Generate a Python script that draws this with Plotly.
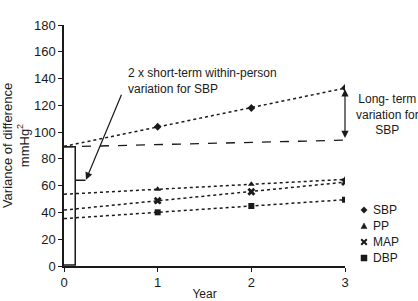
import numpy as np
import plotly.graph_objects as go

years = [1, 2, 3]
sbp = [104, 118, 133]
pp = [57.3, 61, 64.7]
map_ = [48.8, 55.5, 62.7]
dbp = [40.1, 44.8, 49.5]
series_names = ["SBP", "PP", "MAP", "DBP"]
symbols = ["diamond", "triangle-up", "x", "square"]
short_term_level = 89          # 2 x short-term within-person variation
short_term_marker = 64
long_term_baseline_end = 94    # dashed baseline at year 3

FONT = "Liberation Sans, Arial, sans-serif"
INK = "#1a1a1a"
W, H = 418, 301
ML, MR, MT, MB = 64, 73, 25, 35
PW, PH = W - ML - MR, H - MT - MB


def px2paper(px, py):
    return (px - ML) / PW, (H - MB - py) / PH


fig = go.Figure()
trend_x = np.array([0, 3])
for name, vals, sym in zip(series_names, [sbp, pp, map_, dbp], symbols):
    slope, icpt = np.polyfit(years, vals, 1)
    fig.add_trace(go.Scatter(x=trend_x, y=icpt + slope * trend_x, mode="lines",
                             line=dict(color=INK, width=1.5, dash="dot"),
                             showlegend=False, hoverinfo="skip"))
for name, vals, sym in zip(series_names, [sbp, pp, map_, dbp], symbols):
    fig.add_trace(go.Scatter(x=years, y=vals, mode="markers", name=name, showlegend=False,
                             marker=dict(symbol=sym, size=6 if sym != "x" else 7,
                                         color=INK, line=dict(width=0))))

# dashed baseline
fig.add_trace(go.Scatter(x=[0, 3], y=[short_term_level, long_term_baseline_end], mode="lines",
                         line=dict(color=INK, width=1.3, dash="dash"),
                         showlegend=False, hoverinfo="skip"))

# bracket
fig.add_shape(type="path",
              path=f"M 0,{short_term_level} L 0.12,{short_term_level} L 0.12,{short_term_marker} "
                   f"L 0.23,{short_term_marker} M 0.12,{short_term_marker} L 0.12,0.8 L 0,0.8",
              xref="x", yref="y", line=dict(color=INK, width=1.5))

# arrow to bracket
fig.add_annotation(x=0.235, y=short_term_marker + 0.5, ax=0.62, ay=129,
                   xref="x", yref="y", axref="x", ayref="y",
                   text="", showarrow=True, arrowhead=2, arrowsize=1.2,
                   arrowwidth=1.2, arrowcolor=INK)
fig.add_annotation(x=0.66, y=138.5, xref="x", yref="y", xanchor="left", yanchor="middle",
                   text="2 x short-term within-person<br>variation for SBP", showarrow=False,
                   align="left", font=dict(family=FONT, size=12, color=INK))

# long-term double arrow
fig.add_annotation(x=3, y=sbp[-1] - 1, ax=3, ay=long_term_baseline_end + 0.5,
                   xref="x", yref="y", axref="x", ayref="y",
                   text="", showarrow=True, arrowhead=2, arrowside="end+start",
                   arrowsize=1.2, arrowwidth=1.2, arrowcolor=INK)
lx, ly = px2paper(387, 114)
fig.add_annotation(x=lx, y=ly, xref="paper", yref="paper",
                   xanchor="center", yanchor="middle",
                   text="Long- term<br>variation for<br>SBP", showarrow=False,
                   align="center", font=dict(family=FONT, size=12, color=INK))

# legend drawn manually (marker glyph + label)
glyphs = {
    "diamond": ("M -3.2,0 L 0,3.2 L 3.2,0 L 0,-3.2 Z", True),
    "triangle-up": ("M -3,-2.6 L 3,-2.6 L 0,3 Z", True),
    "x": ("M -2.8,-2.8 L 2.8,2.8 M -2.8,2.8 L 2.8,-2.8", False),
    "square": ("M -3,-3 L 3,-3 L 3,3 L -3,3 Z", True),
}
row_y = [210, 226, 242, 258]
for name, sym, ry in zip(series_names, symbols, row_y):
    gx, gy = px2paper(364, ry)
    path, filled = glyphs[sym]
    fig.add_shape(type="path", xref="paper", yref="paper",
                  xsizemode="pixel", ysizemode="pixel", xanchor=gx, yanchor=gy,
                  path=path, fillcolor=INK if filled else None,
                  line=dict(color=INK, width=2 if not filled else 0.5))
    tx, ty = px2paper(371, ry)
    fig.add_annotation(x=tx, y=ty, xref="paper", yref="paper", xanchor="left",
                       yanchor="middle", text=name, showarrow=False,
                       font=dict(family=FONT, size=12, color=INK))

fig.update_layout(
    width=W, height=H,
    margin=dict(l=ML, r=MR, t=MT, b=MB, autoexpand=False),
    paper_bgcolor="white", plot_bgcolor="white",
    font=dict(family=FONT, size=13, color=INK),
    showlegend=False,
    xaxis=dict(range=[0, 3], tickvals=[0, 1, 2, 3], showgrid=False, zeroline=False,
               showline=True, linecolor=INK, linewidth=1.5, ticks="outside",
               ticklen=4, tickcolor=INK, automargin=False,
               title=dict(text="Year", standoff=2, font=dict(size=12))),
    yaxis=dict(range=[0, 180], tickvals=list(range(0, 181, 20)), showgrid=False,
               zeroline=False, showline=True, linecolor=INK, linewidth=1.5,
               ticks="outside", ticklen=4, tickcolor=INK, automargin=False,
               title=dict(text="Variance of difference<br>mmHg<sup>2</sup>", standoff=4,
                          font=dict(size=13))),
)
fig.write_html("out.html", config={"displayModeBar": False},
               post_script="document.body.style.margin='0';")
